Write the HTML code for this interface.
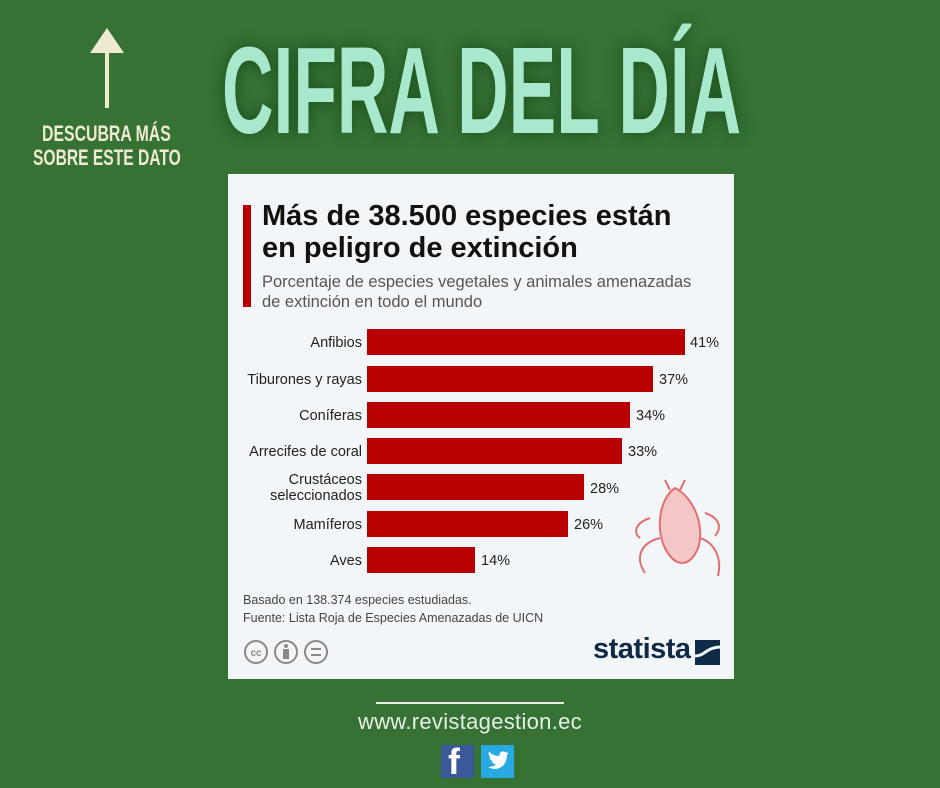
<!DOCTYPE html>
<html><head><meta charset="utf-8"><style>
*{margin:0;padding:0;box-sizing:border-box}
body{width:940px;height:788px;background:#357234;position:relative;overflow:hidden;font-family:"Liberation Sans",sans-serif}
.abs{position:absolute;white-space:nowrap}
.big{left:222px;top:30px;font-weight:bold;font-size:123px;line-height:123px;color:#a8e8cc;transform-origin:0 0;transform:scaleX(0.58);text-shadow:0 0 20px rgba(0,40,0,.5)}
.side{font-weight:bold;font-size:22px;color:#f0ead2;line-height:24px;transform-origin:0 0;transform:scaleX(0.72)}
.card{left:228px;top:174px;width:506px;height:505px;background:#f3f6f9}
.bar{position:absolute;left:367px;height:26px;background:#b90000}
.lab{position:absolute;right:578px;font-size:14.5px;color:#222;text-align:right;line-height:16px}
.val{position:absolute;font-size:14.5px;color:#222}
</style></head><body>
<div class="abs big">CIFRA DEL DÍA</div>
<svg class="abs" style="left:88px;top:28px" width="40" height="82"><polygon points="19,0 36,25 2,25" fill="#f0ead2"/><rect x="17" y="24" width="4" height="56" fill="#f0ead2"/></svg>
<div class="abs side" style="left:42px;top:122px">DESCUBRA MÁS</div>
<div class="abs side" style="left:33px;top:146px;transform:scaleX(0.71)">SOBRE ESTE DATO</div>
<div class="abs card"></div>
<div class="abs" style="left:243px;top:205px;width:8px;height:102px;background:#b90000"></div>
<div class="abs" style="left:262px;top:200px;font-size:29px;font-weight:bold;line-height:32px;color:#111">Más de 38.500 especies están<br>en peligro de extinción</div>
<div class="abs" style="left:262px;top:272px;font-size:16.5px;line-height:20px;color:#555">Porcentaje de especies vegetales y animales amenazadas<br>de extinción en todo el mundo</div>

<div class="bar" style="top:329px;width:318px"></div><div class="lab" style="top:335px">Anfibios</div><div class="val" style="left:690px;top:335px">41%</div>
<div class="bar" style="top:366px;width:286px"></div><div class="lab" style="top:372px">Tiburones y rayas</div><div class="val" style="left:659px;top:372px">37%</div>
<div class="bar" style="top:402px;width:263px"></div><div class="lab" style="top:408px">Coníferas</div><div class="val" style="left:636px;top:408px">34%</div>
<div class="bar" style="top:438px;width:255px"></div><div class="lab" style="top:444px">Arrecifes de coral</div><div class="val" style="left:628px;top:444px">33%</div>
<div class="bar" style="top:474px;width:217px"></div><div class="lab" style="top:472px">Crustáceos<br>seleccionados</div><div class="val" style="left:590px;top:481px">28%</div>
<div class="bar" style="top:511px;width:201px"></div><div class="lab" style="top:517px">Mamíferos</div><div class="val" style="left:574px;top:517px">26%</div>
<div class="bar" style="top:547px;width:108px"></div><div class="lab" style="top:553px">Aves</div><div class="val" style="left:481px;top:553px">14%</div>

<svg class="abs" style="left:630px;top:478px" width="95" height="105"><g fill="none" stroke="#e07070" stroke-width="2"><path d="M45 10 C30 20 25 50 35 70 C45 90 60 90 68 70 C75 50 65 20 45 10Z" fill="#f3c7c7"/><path d="M30 60 C10 65 5 80 15 95"/><path d="M70 60 C85 65 92 80 88 98"/><path d="M40 12 L35 2 M50 12 L55 2"/><path d="M20 40 C5 45 3 55 10 60"/><path d="M75 35 C90 40 92 50 85 58"/></g></svg>

<div class="abs" style="left:243px;top:591px;font-size:12.5px;line-height:18px;color:#444">Basado en 138.374 especies estudiadas.<br>Fuente: Lista Roja de Especies Amenazadas de UICN</div>
<svg class="abs" style="left:243px;top:639px" width="90" height="28"><g fill="none" stroke="#888" stroke-width="2"><circle cx="13" cy="13" r="11"/><circle cx="43" cy="13" r="11"/><circle cx="73" cy="13" r="11"/><path d="M68 10h10M68 16h10"/></g><text x="13" y="17" font-size="10" font-weight="bold" fill="#888" text-anchor="middle" font-family="Liberation Sans">cc</text><circle cx="43" cy="7" r="2" fill="#888"/><rect x="40" y="10" width="6" height="10" fill="#888"/></svg>
<div class="abs" style="left:593px;top:633px;font-size:29px;font-weight:bold;color:#0e2a47;letter-spacing:-0.5px">statista</div>
<svg class="abs" style="left:695px;top:640px" width="25" height="25"><rect width="25" height="25" fill="#0e2a47"/><path d="M0 16 C10 16 10 8 25 7" stroke="#f3f6f9" stroke-width="3" fill="none"/></svg>

<div class="abs" style="left:376px;top:702px;width:188px;height:2px;background:#e8eee8"></div>
<div class="abs" style="left:358px;top:709px;font-size:22px;color:#e8eee8;letter-spacing:0.3px">www.revistagestion.ec</div>
<div class="abs" style="left:441px;top:745px;width:33px;height:33px;background:#3b5998"></div>
<div class="abs" style="left:448px;top:744px;font-size:36px;font-weight:bold;color:#fff;line-height:36px;height:34px;overflow:hidden">f</div>
<svg class="abs" style="left:481px;top:745px" width="33" height="33"><rect width="33" height="33" fill="#29a9e1"/><path d="M7 22 C12 25 20 25 24 18 C26 14 26 11 26 10 L28 8 L25.5 8.5 L27 6.5 L24.5 7.5 C22 5 18 7 18.5 11 C14 11 10 9 8 6.5 C7 9 8 11.5 10 12.5 L8.5 12.5 C9 15 11 16 12.5 16.5 L10.5 16.5 C11.5 18.5 13 19 15 19.5 C12.5 21.5 10 22 7 22Z" fill="#fff"/></svg>
</body></html>
